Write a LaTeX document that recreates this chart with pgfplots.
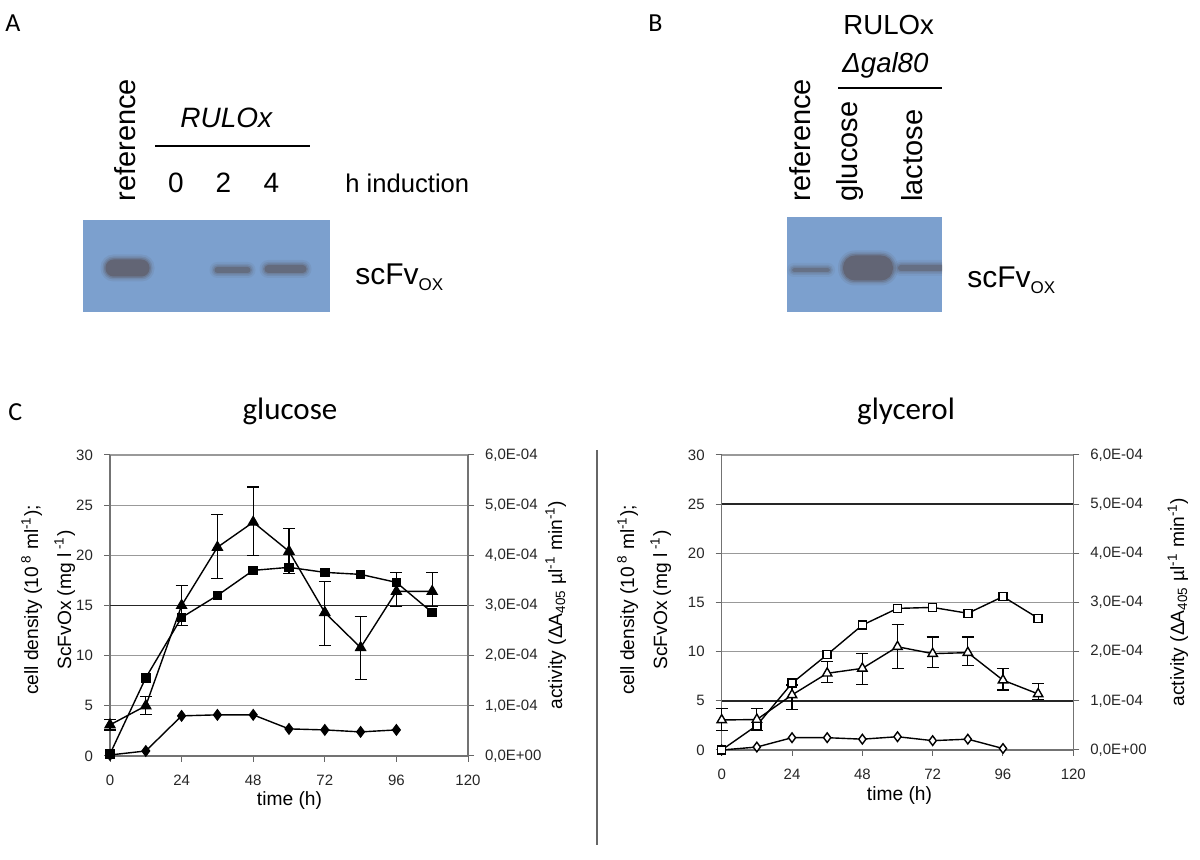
\documentclass[border=0pt]{standalone}
\usepackage{pgfplots}
\usepackage{pgfplotstable}
\pgfplotsset{compat=1.18}
\usepackage{fontspec}
\setmainfont{Liberation Sans}
\newfontfamily\calfont{Carlito}
\definecolor{blotc}{RGB}{124,160,206}
\definecolor{bandc}{RGB}{92,88,96}
\newcommand\PP[2]{({(#1)*0.5pt},{430pt-(#2)*0.5pt})}
\newcommand\band[5]{\fill[bandc, opacity=#5, rounded corners={((#4)-(#2))*0.24pt}] \PP{#1}{#2} rectangle \PP{#3}{#4};}
\newcommand\bandb[5]{% cx cy w h strength
  \foreach \e/\o in {5/0.12, 3/0.2, 1.5/0.3, 0/0.6}{\band{#1-#3/2-\e}{#2-#4/2-\e}{#1+#3/2+\e}{#2+#4/2+\e}{\o*#5}}}

\pgfplotstableread{
t y ep em
0 3.1 0.5 0.5
12 5.0 0.9 0.9
24 15.0 2.0 2.0
36 20.8 3.3 3.1
48 23.3 3.5 3.3
60 20.4 2.3 2.2
72 14.3 3.1 3.3
84 10.8 3.1 3.2
96 16.4 1.9 1.5
108 16.4 1.9 1.5
}\glcTri
\pgfplotstableread{
t y
0 0.2
12 7.8
24 13.8
36 16.0
48 18.5
60 18.8
72 18.3
84 18.1
96 17.3
108 14.3
}\glcSq
\pgfplotstableread{
t y
0 0.1
12 0.5
24 4.0
36 4.1
48 4.1
60 2.7
72 2.6
84 2.4
96 2.6
}\glcDi
\pgfplotstableread{
t y ep em
0 3.05 1.15 1.05
12 3.1 1.1 1.1
24 5.6 1.0 1.5
36 7.8 1.2 0.9
48 8.3 1.5 1.6
60 10.5 2.3 2.2
72 9.8 1.7 1.4
84 9.9 1.6 1.3
96 7.1 1.2 1.0
108 5.7 1.1 0.6
}\glyTri
\pgfplotstableread{
t y
0 0
12 2.5
24 6.8
36 9.7
48 12.7
60 14.4
72 14.5
84 13.9
96 15.6
108 13.4
}\glySq
\pgfplotstableread{
t y
0 0
12 0.3
24 1.25
36 1.25
48 1.1
60 1.35
72 0.95
84 1.1
96 0.15
}\glyDi

\pgfplotsset{
  base/.style={scale only axis, xmin=0, xmax=120, ymin=0, ymax=30,
    xtick={0,24,...,120}, ytick={0,5,...,30},
    tick align=outside, major tick length=3pt,
    tick style={black!60, line width=0.5pt},
    axis line style={black!55, line width=0.6pt},
    ticklabel style={font=\fontsize{7.5}{9}\selectfont, text=black!85},
    /pgf/number format/assume math mode=true,
    clip=false},
  mainax/.style={base, axis x line*=bottom, axis y line*=left,
    ymajorgrids, grid style={black!40, line width=0.6pt},
    xticklabel style={yshift=-3pt}, yticklabel style={xshift=-2pt}},
  secax/.style={base, axis y line*=right, axis x line=none,
    yticklabels={{0,0E+00},{1,0E-04},{2,0E-04},{3,0E-04},{4,0E-04},{5,0E-04},{6,0E-04}},
    yticklabel style={xshift=2pt}},
  ser/.style={black, line width=0.7pt, mark options={solid, line width=0.6pt}},
  err/.style={error bars/.cd, y dir=both, y explicit,
    error bar style={line width=0.6pt, black},
    error mark=-,
    error mark options={rotate=90, mark size=3pt, line width=0.6pt, black}},
}

\begin{document}
\begin{tikzpicture}
\useasboundingbox (0,0) rectangle (600pt,430pt);
% ---------- Panel A ----------
\node[anchor=base west, font=\calfont\fontsize{13}{15}\selectfont, inner sep=0] at \PP{5}{32} {A};
\fill[blotc] \PP{83}{220} rectangle \PP{330}{312};
\begin{scope}
\clip \PP{83}{220} rectangle \PP{330}{312};
\bandb{127.5}{268}{44}{17}{1.0}
\bandb{232.5}{270}{36}{6}{0.8}
\bandb{285.5}{269}{42}{8}{0.85}
\end{scope}
\node[rotate=90, anchor=base west, inner sep=0, font=\fontsize{14.5}{16}\selectfont] at \PP{135}{202} {reference};
\node[anchor=base west, inner sep=0, font=\itshape\fontsize{14}{16}\selectfont] at \PP{180}{128} {RULOx};
\draw[line width=1pt] \PP{155}{146} -- \PP{310}{146};
\foreach \xx/\tt in {176/0,223.5/2,271.5/4}{\node[anchor=base, inner sep=0, font=\fontsize{14}{16}\selectfont] at \PP{\xx}{193} {\tt};}
\node[anchor=base west, inner sep=0, font=\fontsize{12.8}{15}\selectfont] at \PP{345}{193} {h induction};
\node[anchor=base west, inner sep=0, font=\fontsize{15}{17}\selectfont] at \PP{355}{285} {scFv\raisebox{-0.35ex}{\fontsize{8.5}{9}\selectfont OX}};
% ---------- Panel B ----------
\node[anchor=base west, font=\calfont\fontsize{13}{15}\selectfont, inner sep=0] at \PP{648}{32} {B};
\node[anchor=base west, inner sep=0, font=\fontsize{13.8}{16}\selectfont] at \PP{843}{35} {RULOx};
\node[anchor=base west, inner sep=0, font=\itshape\fontsize{13.8}{16}\selectfont] at \PP{842}{73} {Δgal80};
\draw[line width=1pt] \PP{838}{88} -- \PP{942}{88};
\node[rotate=90, anchor=base west, inner sep=0, font=\fontsize{14.5}{16}\selectfont] at \PP{810}{202} {reference};
\node[rotate=90, anchor=base west, inner sep=0, font=\fontsize{14.5}{16}\selectfont] at \PP{857}{202} {glucose};
\node[rotate=90, anchor=base west, inner sep=0, font=\fontsize{14.5}{16}\selectfont] at \PP{922}{202} {lactose};
\fill[blotc] \PP{787}{217} rectangle \PP{942}{312};
\begin{scope}
\clip \PP{787}{217} rectangle \PP{942}{312};
\bandb{811}{270}{38}{4}{0.7}
\bandb{868}{268}{50}{25}{1.0}
\bandb{921}{268}{46}{6}{0.75}
\end{scope}
\node[anchor=base west, inner sep=0, font=\fontsize{15}{17}\selectfont] at \PP{967}{288} {scFv\raisebox{-0.35ex}{\fontsize{8.5}{9}\selectfont OX}};
% ---------- Panel C ----------
\node[anchor=base west, font=\calfont\fontsize{13}{15}\selectfont, inner sep=0] at \PP{8}{421} {C};
\node[anchor=base, inner sep=0, font=\calfont\fontsize{15.5}{18}\selectfont] at \PP{290}{420} {glucose};
\node[anchor=base, inner sep=0, font=\calfont\fontsize{15.5}{18}\selectfont] at \PP{906}{420} {glycerol};
\draw[black!60, line width=0.6pt] \PP{597}{450} -- \PP{597}{845};

% glucose chart
\begin{axis}[mainax, at={(55pt,52pt)}, width=179pt, height=150.5pt]
\draw[black!85, line width=0.7pt] (axis cs:0,15) -- (axis cs:120,15);
\addplot[ser, mark=diamond*, mark size=2.6pt] table[x=t,y=y]{\glcDi};
\addplot[ser, mark=square*, mark size=2.1pt] table[x=t,y=y]{\glcSq};
\addplot[ser, mark=triangle*, mark size=2.9pt, err] table[x=t, y=y, y error plus=ep, y error minus=em]{\glcTri};
\end{axis}
\begin{axis}[secax, at={(55pt,52pt)}, width=179pt, height=150.5pt]
\end{axis}

% glycerol chart
\begin{axis}[mainax, at={(360.85pt,55pt)}, width=175.8pt, height=147.5pt]
\draw[black!85, line width=0.7pt] (axis cs:0,25) -- (axis cs:120,25);
\draw[black!85, line width=0.7pt] (axis cs:0,5) -- (axis cs:120,5);
\addplot[ser, mark=diamond*, mark size=2.4pt, mark options={fill=white}] table[x=t,y=y]{\glyDi};
\addplot[ser, mark=square*, mark size=2.0pt, mark options={fill=white}] table[x=t,y=y]{\glySq};
\addplot[ser, mark=triangle*, mark size=2.7pt, mark options={fill=white}, err] table[x=t, y=y, y error plus=ep, y error minus=em]{\glyTri};
\end{axis}
\begin{axis}[secax, at={(360.85pt,55pt)}, width=175.8pt, height=147.5pt]
\end{axis}

% axis labels
\node[anchor=base, inner sep=0, font=\fontsize{9.6}{11}\selectfont] at \PP{289.5}{806} {time (h)};
\node[anchor=base, inner sep=0, font=\fontsize{9.6}{11}\selectfont] at \PP{899.5}{801} {time (h)};
\node[rotate=90, anchor=base, inner sep=0, font=\fontsize{9.6}{11}\selectfont] at \PP{38}{600} {cell density (10\,\textsuperscript{8} ml\textsuperscript{-1});};
\node[rotate=90, anchor=base, inner sep=0, font=\fontsize{9.6}{11}\selectfont] at \PP{71}{600} {ScFvOx (mg l\textsuperscript{ -1})};
\node[rotate=90, anchor=base, inner sep=0, font=\fontsize{9.6}{11}\selectfont] at \PP{562}{605} {activity (ΔA\textsubscript{405} µl\textsuperscript{-1} min\textsuperscript{-1})};
\node[rotate=90, anchor=base, inner sep=0, font=\fontsize{9.6}{11}\selectfont] at \PP{634}{600} {cell density (10\,\textsuperscript{8} ml\textsuperscript{-1});};
\node[rotate=90, anchor=base, inner sep=0, font=\fontsize{9.6}{11}\selectfont] at \PP{667}{600} {ScFvOx (mg l\textsuperscript{ -1})};
\node[rotate=90, anchor=base, inner sep=0, font=\fontsize{9.6}{11}\selectfont] at \PP{1184}{602} {activity (ΔA\textsubscript{405} µl\textsuperscript{-1} min\textsuperscript{-1})};
\end{tikzpicture}
\end{document}
